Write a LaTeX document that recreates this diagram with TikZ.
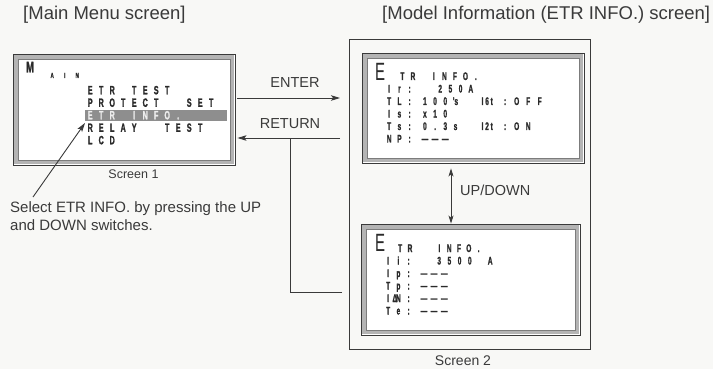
\documentclass[tikz,border=0pt]{standalone}
\usepackage{fontspec}
\setmainfont{Liberation Sans}
\newfontfamily\lcdfont[FakeStretch=0.6, FakeBold=1.2]{Liberation Sans}
\newfontfamily\lcdbig[FakeStretch=0.6]{Liberation Sans}
\usetikzlibrary{arrows.meta}
\definecolor{ink}{HTML}{3A3A3A}
\definecolor{lcdink}{HTML}{2A2A2A}
\definecolor{bandc}{HTML}{B4B4B4}
\definecolor{bandin}{HTML}{7C7C7C}
\definecolor{paper}{HTML}{F8F8F6}
\definecolor{hibar}{HTML}{8E8E8E}
\definecolor{hitext}{HTML}{EDEDED}
\newdimen\lcdp
\makeatletter
\def\lcd@stopmark{\lcd@stop}
\def\lcd@blank{_}
\def\lcd@half{*}
\newcommand\lcd[2][10.2pt]{\lcdp=#1\relax\lcd@loop#2\lcd@stop}
\def\lcd@loop#1{\def\lcd@arg{#1}\ifx\lcd@arg\lcd@stopmark\else\lcd@cell\expandafter\lcd@loop\fi}
\def\lcd@cell{\ifx\lcd@arg\lcd@blank\hspace*{\lcdp}\else\ifx\lcd@arg\lcd@half\hspace*{0.5\lcdp}\else\makebox[\lcdp][c]{\lcd@arg}\fi\fi}
\makeatother
\tikzset{
  bigframe/.style={draw=ink, line width=1pt, inner sep=0pt, rectangle},
  lcdscreen/.style={draw=ink, line width=0.9pt, fill=white, inner sep=0pt, rectangle},
  bandline/.style={draw=bandc, line width=4pt},
  bandinner/.style={draw=bandin, line width=0.6pt},
  lcdtxt/.style={inner sep=0pt, anchor=base west, text=lcdink, font=\lcdfont\bfseries\fontsize{11}{11}\selectfont},
  lcdone/.style={lcdtxt, font=\lcdfont\bfseries\fontsize{12}{12}\selectfont},
  bigletter/.style={inner sep=0pt, anchor=base west, text=lcdink},
  lbl/.style={inner sep=0pt, text=ink, font=\fontsize{14.5}{17}\selectfont},
  head/.style={inner sep=0pt, anchor=base west, text=ink, font=\fontsize{18.5}{22}\selectfont},
  conn/.style={draw=ink, line width=0.9pt},
  arr/.style={conn, -{Stealth[length=9pt,width=5.5pt,inset=2pt]}},
  dbl/.style={conn, {Stealth[length=8pt,width=5pt,inset=2pt]}-{Stealth[length=8pt,width=5pt,inset=2pt]}},
}
\begin{document}
\begin{tikzpicture}[x=1pt,y=-1pt]
\fill[paper] (0,0) rectangle (713,369);
\useasboundingbox (0,0) rectangle (713,369);

% headings
\node[head] (h1) at (23,19.5) {[Main Menu screen]};
\node[head] (h2) at (382,20) {[Model Information (ETR INFO.) screen]};

% frames
\node[bigframe, minimum width=240.5pt, minimum height=309pt] (s2) at (469.75,194.5) {};
\node[lcdscreen, minimum width=222pt, minimum height=111pt] (s1) at (124,109.5) {};
\node[lcdscreen, minimum width=221.5pt, minimum height=110pt] (sA) at (473.25,108) {};
\node[lcdscreen, minimum width=218.5pt, minimum height=111pt] (sB) at (470.75,279.5) {};
\foreach \s in {s1,sA,sB}{
  \draw[bandline] ([shift={(3.2,3.2)}]\s.north west) rectangle ([shift={(-3.2,-3.2)}]\s.south east);
  \draw[bandinner] ([shift={(5.6,5.6)}]\s.north west) rectangle ([shift={(-5.6,-5.6)}]\s.south east);
}

% screen 1 content
\node[bigletter, font=\lcdfont\bfseries\fontsize{15.5}{15.5}\selectfont] (mM) at (26,72.5) {M};
\node[lcdtxt, font=\lcdfont\bfseries\fontsize{7.5}{7.5}\selectfont] (mAIN) at (45.75,78) {\lcd[12.5pt]{AIN}};
\node[lcdone] (m1) at (84.5,94.3) {\lcd[11pt]{ETR_TEST}};
\node[lcdone] (m2) at (84.5,106.8) {\lcd[11pt]{PROTECT__SET}};
\node[fill=hibar, minimum width=142pt, minimum height=11pt, inner sep=0pt] (hl) at (156,115.5) {};
\node[lcdone, text=hitext] (m3) at (84.5,119.3) {\lcd[11pt]{ETR_INFO.}};
\node[lcdone] (m4) at (84.5,131.8) {\lcd[11pt]{RELAY__TEST}};
\node[lcdone] (m5) at (84.5,144.3) {\lcd[11pt]{LCD}};
\node[lbl, anchor=base, font=\fontsize{12.5}{15}\selectfont] (ls1) at (133.5,178.3) {Screen 1};

% screen A content
\node[bigletter, font=\lcdbig\fontsize{25}{25}\selectfont] (ea) at (375,80.5) {E};
\node[lcdtxt] (a0) at (397,80) {\lcd[10.5pt]{TR_INFO.}};
\node[lcdtxt] (a1) at (383.9,92.5) {\lcd{Ir:__250A}};
\node[lcdtxt] (a2) at (383.9,105) {\lcd{TL:*100{'s}}};
\node[lcdtxt] (a3) at (383.9,117.5) {\lcd{Is:*x10}};
\node[lcdtxt] (a4) at (383.9,130) {\lcd{Ts:*0.3s}};
\node[lcdtxt] (a5) at (383.9,142.5) {\lcd{NP:*———}};
\node[lcdtxt] (a6) at (480,105) {\lcd[4.6pt]{I6t}};
\node[lcdtxt] (a7) at (499.25,105) {\lcd[11.5pt]{:OFF}};
\node[lcdtxt] (a8) at (480,130) {\lcd[4.6pt]{I2t}};
\node[lcdtxt] (a9) at (499.25,130) {\lcd[11.5pt]{:ON}};

% screen B content
\node[bigletter, font=\lcdbig\fontsize{25}{25}\selectfont] (eb) at (375,251.5) {E};
\node[lcdtxt] (b0) at (395.1,252) {\lcd[9.8pt]{TR__INFO.}};
\node[lcdtxt] (b1) at (382.9,264.5) {\lcd{Ii:__3500_A}};
\node[lcdtxt] (b2) at (382.9,277) {\lcd{Ip:*———}};
\node[lcdtxt] (b3) at (382.9,289.5) {\lcd{Tp:*———}};
\node[lcdtxt] (b4) at (382.9,302) {\lcd{I{\rlap{\hspace{-3.5pt}Δ}N}:*———}};
\node[lcdtxt] (b5) at (382.9,314.5) {\lcd{Te:*———}};
\node[lbl, anchor=base, font=\fontsize{14}{16}\selectfont] (ls2) at (463,365) {Screen 2};

% labels
\node[lbl, anchor=base] (lenter) at (295,87.3) {ENTER};
\node[lbl, anchor=base] (lreturn) at (290,128.3) {RETURN};
\node[lbl, anchor=base west] (lud) at (460,195) {UP/DOWN};
\node[lbl, anchor=base west, font=\fontsize{15}{18}\selectfont] (sel1) at (10,212) {Select ETR INFO. by pressing the UP};
\node[lbl, anchor=base west, font=\fontsize{15}{18}\selectfont] (sel2) at (10,230) {and DOWN switches.};

% connectors
\coordinate (entertip) at (340,98);
\coordinate (rettail) at (340,138);
\coordinate (retfoot) at (342,292);
\coordinate (udx) at (451,0);
\coordinate (selfoot) at (33,197);
\coordinate (seltip) at (85,123);
\draw[arr] ([xshift=2pt]s1.east |- entertip) -- (entertip);
\draw[arr] (rettail) -- ([xshift=2pt]s1.east |- rettail);
\draw[conn] (retfoot) -- (retfoot -| lreturn) -- (lreturn |- rettail);
\draw[dbl] ([yshift=-5pt]sA.south -| udx) -- (sB.north -| udx);
\draw[arr] (selfoot) -- (seltip);
\end{tikzpicture}
\end{document}
